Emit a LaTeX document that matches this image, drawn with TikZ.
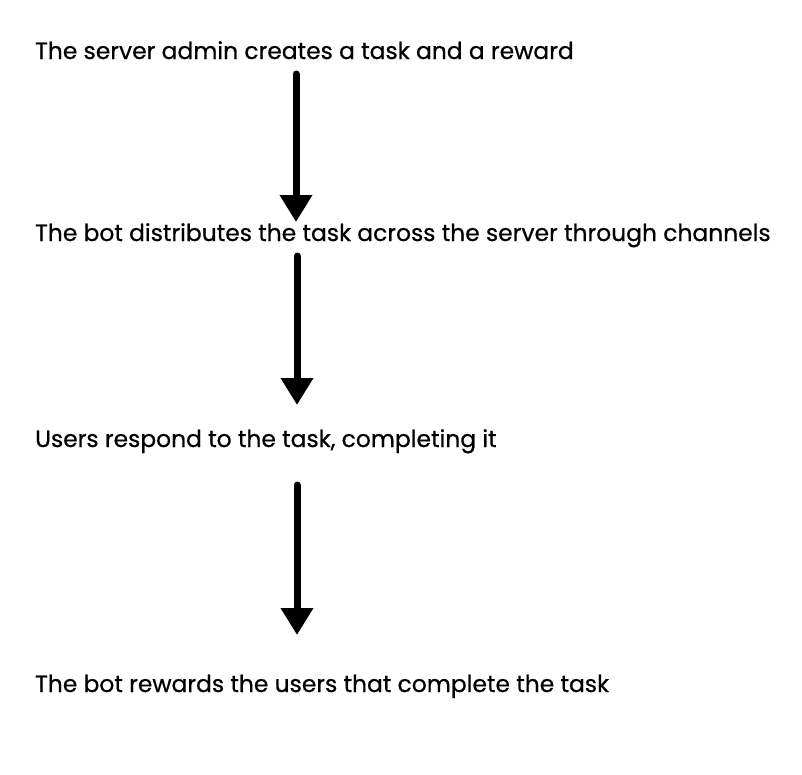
\documentclass[tikz,border=0pt]{standalone}
\usepackage{fontspec}
\setmainfont{Poppins}
\newfontfamily\lblfont{Poppins}[FakeBold=0.6]
\usetikzlibrary{arrows.meta}
\begin{document}
\begin{tikzpicture}[x=1pt,y=-1pt,
  lbl/.style={anchor=base west,inner sep=0pt,font=\lblfont\fontsize{23.4}{28}\selectfont},
  flow/.style={line width=7pt,line cap=round,-{Triangle[width=31pt,length=27pt]}}]
\useasboundingbox[fill=white] (0,0) rectangle (802,774);
\node[lbl] (t1) at (35,59) {The server admin creates a task and a reward};
\node[lbl] (t2) at (35,241) {The bot distributes the task across the server through channels};
\node[lbl] (t3) at (35,447) {Users respond to the task, completing it};
\node[lbl] (t4) at (35,692) {The bot rewards the users that complete the task};
\coordinate (a1s) at (296,74);
\coordinate (a1e) at (296,222);
\coordinate (a2s) at (297,256);
\coordinate (a2e) at (297,405);
\coordinate (a3s) at (297,485);
\coordinate (a3e) at (297,635);
\draw[flow] (a1s) -- (a1e);
\draw[flow] (a2s) -- (a2e);
\draw[flow] (a3s) -- (a3e);
\end{tikzpicture}
\end{document}
